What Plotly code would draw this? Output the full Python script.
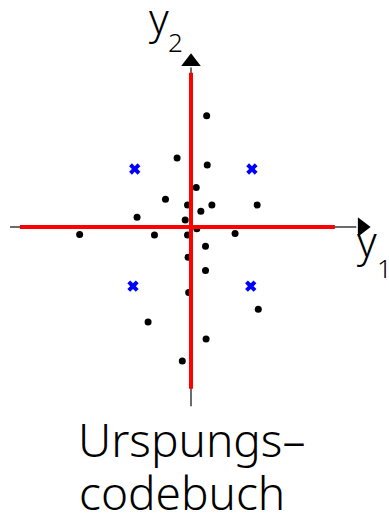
import plotly.graph_objects as go

# training vectors (y1, y2)
pts_y1 = [0.27, -0.24, 0.28, 0.09, -0.44, -0.06, 0.36, 1.14, 0.17, -0.93, -0.10, 0.10,
          -1.92, -0.63, -0.06, 0.76, 0.25, -0.05, 0.25, -0.04, 1.16, -0.74, 0.26, -0.15]
pts_y2 = [1.92, 1.19, 1.07, 0.68, 0.48, 0.38, 0.38, 0.38, 0.27, 0.17, 0.12, -0.03,
          -0.13, -0.14, -0.14, -0.11, -0.33, -0.52, -0.75, -1.13, -1.42, -1.64, -1.93, -2.31]

# initial codebook vectors
code_y1 = [-0.97, 1.05, -1.00, 1.03]
code_y2 = [1.00, 1.00, -1.02, -1.02]

# decision boundaries
bound_h_y1 = [-2.95, 2.48]
bound_v_y2 = [-2.79, 2.66]

# coordinate axes extents
axis_y1 = [-3.12, 2.85]
axis_y2 = [-3.09, 2.75]

caption = ["Urspungs–", "codebuch"]

W, H = 389, 517
OX, OY, U = 191, 227, 58.0
xr = [-OX / U, (W - OX) / U]
yr = [-(H - OY) / U, OY / U]

fig = go.Figure()

# axes
fig.add_trace(go.Scatter(x=axis_y1, y=[0, 0], mode="lines",
                         line=dict(color="#6b6b6b", width=2), hoverinfo="skip"))
fig.add_trace(go.Scatter(x=[0, 0], y=axis_y2, mode="lines",
                         line=dict(color="#6b6b6b", width=2), hoverinfo="skip"))
fig.add_trace(go.Scatter(x=[axis_y1[1] + 0.1], y=[0], mode="markers",
                         marker=dict(symbol="triangle-right", size=17, color="black")))
fig.add_trace(go.Scatter(x=[0], y=[axis_y2[1] + 0.1], mode="markers",
                         marker=dict(symbol="triangle-up", size=17, color="black")))

# data points
fig.add_trace(go.Scatter(x=pts_y1, y=pts_y2, mode="markers",
                         marker=dict(symbol="circle", size=7, color="black")))

# boundaries
fig.add_trace(go.Scatter(x=bound_h_y1, y=[0, 0], mode="lines",
                         line=dict(color="#ff0000", width=4)))
fig.add_trace(go.Scatter(x=[0, 0], y=bound_v_y2, mode="lines",
                         line=dict(color="#ff0000", width=4)))

# codebook
fig.add_trace(go.Scatter(x=code_y1, y=code_y2, mode="markers",
                         marker=dict(symbol="x", size=10, color="#0000ff",
                                     line=dict(width=0))))


def label(txt, cx, cy, size):
    fig.add_annotation(x=cx / W, y=1 - cy / H, xref="paper", yref="paper",
                       text=txt, showarrow=False,
                       font=dict(family="Noto Sans", color="black", size=size, weight=300),
                       xanchor="center", yanchor="middle")


# axis names with subscripts
label("y", 159, 17.5, 42)
label("2", 175.5, 42, 26)
label("y", 366.5, 240.5, 42)
label("1", 384, 268, 26)

# caption
label(caption[0], 191.5, 439, 46)
label(caption[1], 181.5, 492, 46)

fig.update_layout(width=W, height=H, margin=dict(l=0, r=0, t=0, b=0),
                  paper_bgcolor="white", plot_bgcolor="white", showlegend=False,
                  xaxis=dict(range=xr, visible=False, fixedrange=True),
                  yaxis=dict(range=yr, visible=False, fixedrange=True))

fig.write_html("out.html", config=dict(displayModeBar=False))
